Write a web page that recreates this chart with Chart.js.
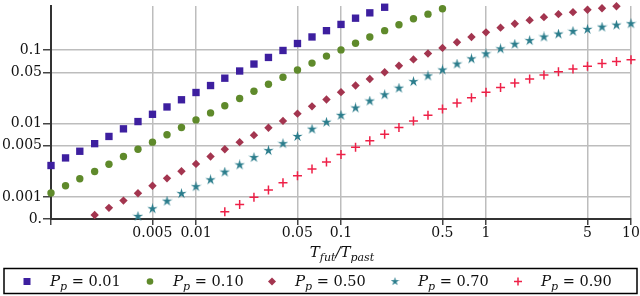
<!DOCTYPE html>
<html>
<head>
<meta charset="utf-8">
<script src="https://cdn.jsdelivr.net/npm/chart.js@4.4.1/dist/chart.umd.min.js"></script>
<style>
  html, body { margin: 0; padding: 0; background: #fff; }
  #wrap { width: 640px; height: 296px; position: relative; }
</style>
</head>
<body>
<div id="wrap"><canvas id="chart"></canvas></div>
<script>
// x positions shared by all series (T_fut / T_past)
const xValues = [0.001, 0.00126, 0.00158, 0.002, 0.00251, 0.00316, 0.00398, 0.00501, 0.00631, 0.00794,
    0.01, 0.0126, 0.0158, 0.02, 0.0251, 0.0316, 0.0398, 0.0501, 0.0631, 0.0794,
    0.1, 0.126, 0.158, 0.2, 0.251, 0.316, 0.398, 0.501, 0.631, 0.794,
    1, 1.26, 1.58, 2, 2.51, 3.16, 3.98, 5.01, 6.31, 7.94, 10];

const seriesNames = ["0.01", "0.10", "0.50", "0.70", "0.90"];

const p001 = [0.00268, 0.00340, 0.00419, 0.00532, 0.00667, 0.00847, 0.01064, 0.01337, 0.01683, 0.02109,
    0.02649, 0.03296, 0.04150, 0.05200, 0.06471, 0.07962, 0.09908, 0.1233, 0.1514, 0.1845,
    0.2244, 0.2729, 0.3228, 0.3846];

const p010 = [0.00113, 0.00142, 0.00177, 0.00222, 0.00279, 0.00355, 0.00446, 0.00558, 0.00703, 0.00883,
    0.01122, 0.01396, 0.01750, 0.02198, 0.02761, 0.03436, 0.04276, 0.05370, 0.06668, 0.08299,
    0.1009, 0.1245, 0.1514, 0.1845, 0.2223, 0.2679, 0.3097, 0.3664];

const p050 = [null, null, null, 0.000566, 0.000710, 0.000891, 0.00112, 0.00142, 0.00179, 0.00224,
    0.00282, 0.00355, 0.00446, 0.00558, 0.00695, 0.00875, 0.01086, 0.01365, 0.01714, 0.02128,
    0.02679, 0.03296, 0.04055, 0.05000, 0.06138, 0.07482, 0.09016, 0.1074, 0.1282, 0.1514,
    0.1750, 0.2028, 0.2296, 0.2564, 0.2818, 0.3097, 0.3296, 0.3548, 0.3733, 0.3972];

const p070 = [null, null, null, null, null, null, 0.000542, 0.000689, 0.000875, 0.00111,
    0.00138, 0.00171, 0.00218, 0.00273, 0.00344, 0.00428, 0.00532, 0.00667, 0.00838, 0.01042,
    0.01294, 0.01629, 0.02028, 0.02466, 0.03034, 0.03733, 0.04457, 0.05370, 0.06471, 0.07621,
    0.08913, 0.1042, 0.1205, 0.1352, 0.1514, 0.1660, 0.1807, 0.1923, 0.2065, 0.2198, 0.2296];

const p090 = [null, null, null, null, null, null, null, null, null, null,
    null, null, 0.000627, 0.000787, 0.000991, 0.00124, 0.00156, 0.00194, 0.00241, 0.00300,
    0.00378, 0.00474, 0.00583, 0.00716, 0.00883, 0.01086, 0.01294, 0.01581, 0.01905, 0.02244,
    0.02679, 0.03097, 0.03581, 0.04055, 0.04592, 0.05093, 0.05534, 0.06026, 0.06607, 0.07031, 0.07396];

const xTicks = [0.001, 0.005, 0.01, 0.05, 0.1, 0.5, 1, 5, 10];
const yTicks = [0.0005, 0.001, 0.005, 0.01, 0.05, 0.1];
const yTickLabels = ["0.", "0.001", "0.005", "0.01", "0.05", "0.1"];

const colors = ["#3d1f9f", "#5f8a2b", "#a3354f", "#2b7d8c", "#ee2047"];
const SERIF = '"DejaVu Serif", serif';

function toPoints(ys) {
    const pts = [];
    ys.forEach((y, i) => {
        if (y !== null) pts.push({ x: xValues[i], y: y });
    });
    return pts;
}

// five pointed star marker
function makeStar(size, color) {
    const c = document.createElement("canvas");
    c.width = size;
    c.height = size;
    const g = c.getContext("2d");
    const cx = size / 2, cy = size / 2;
    const outer = size / 2, inner = size / 5.5;
    g.beginPath();
    for (let i = 0; i < 10; i++) {
        const r = i % 2 === 0 ? outer : inner;
        const a = -Math.PI / 2 + i * Math.PI / 5;
        const px = cx + r * Math.cos(a);
        const py = cy + r * Math.sin(a);
        if (i === 0) g.moveTo(px, py); else g.lineTo(px, py);
    }
    g.closePath();
    g.fillStyle = color;
    g.fill();
    return c;
}

const starBig = makeStar(11, colors[3]);
const starSmall = makeStar(9, colors[3]);

function drawMarker(ctx, kind, x, y) {
    ctx.save();
    ctx.fillStyle = colors[kind];
    ctx.strokeStyle = colors[kind];
    if (kind === 0) {
        ctx.fillRect(x - 3.5, y - 3.5, 7, 7);
    } else if (kind === 1) {
        ctx.beginPath();
        ctx.arc(x, y, 3.3, 0, Math.PI * 2);
        ctx.fill();
    } else if (kind === 2) {
        ctx.beginPath();
        ctx.moveTo(x, y - 4);
        ctx.lineTo(x + 4, y);
        ctx.lineTo(x, y + 4);
        ctx.lineTo(x - 4, y);
        ctx.closePath();
        ctx.fill();
    } else if (kind === 3) {
        ctx.drawImage(starSmall, x - 4.5, y - 4.5);
    } else {
        ctx.lineWidth = 1.5;
        ctx.beginPath();
        ctx.moveTo(x - 4, y);
        ctx.lineTo(x + 4, y);
        ctx.moveTo(x, y - 4);
        ctx.lineTo(x, y + 4);
        ctx.stroke();
    }
    ctx.restore();
}

const extrasPlugin = {
    id: "extras",
    afterDraw(chart) {
        const ctx = chart.ctx;
        const area = chart.chartArea;
        ctx.save();
        ctx.fillStyle = "#111";
        ctx.textBaseline = "alphabetic";

        // axis title T_fut / T_past
        const big = "italic 15px " + SERIF;
        const small = "italic 11px " + SERIF;
        const parts = [["T", big, 0], ["fut", small, 4], ["/", big, 0], ["T", big, 0], ["past", small, 4]];
        let total = 0;
        parts.forEach(p => { ctx.font = p[1]; total += ctx.measureText(p[0]).width; });
        let tx = (area.left + area.right) / 2 - total / 2 + 1;
        const ty = 257;
        parts.forEach(p => {
            ctx.font = p[1];
            ctx.fillText(p[0], tx, ty + p[2]);
            tx += ctx.measureText(p[0]).width;
        });

        // legend box
        ctx.strokeStyle = "#000";
        ctx.lineWidth = 1.5;
        ctx.strokeRect(4, 268.5, 633, 25);

        const legendX = [27, 150, 272, 395, 518];
        seriesNames.forEach((name, i) => {
            const mx = legendX[i];
            drawMarker(ctx, i, mx, 281.5);
            let lx = mx + 23;
            ctx.fillStyle = "#111";
            ctx.font = "italic 15px " + SERIF;
            ctx.fillText("P", lx, 286);
            lx += ctx.measureText("P").width;
            ctx.font = "italic 11px " + SERIF;
            ctx.fillText("p", lx, 290);
            lx += ctx.measureText("p").width;
            ctx.font = "14.5px " + SERIF;
            ctx.fillText(" = " + name, lx, 286);
        });
        ctx.restore();
    },
};

const datasets = [p001, p010, p050, p070, p090].map((ys, i) => {
    const styles = ["rect", "circle", "rectRot", starBig, "cross"];
    const radii = [5.2, 3.7, 4.2, 5.5, 4.5];
    return {
        label: "Pp = " + seriesNames[i],
        data: toPoints(ys),
        pointStyle: styles[i],
        pointRadius: radii[i],
        pointHoverRadius: radii[i],
        backgroundColor: colors[i],
        borderColor: colors[i],
        borderWidth: i === 4 ? 1.5 : 0,
        showLine: false,
        clip: false,
    };
});

function noEdgePadding(scale) {
    scale.paddingTop = 0;
    scale.paddingBottom = 0;
    scale.paddingLeft = 0;
    scale.paddingRight = 0;
}

new Chart(document.getElementById("chart"), {
    type: "scatter",
    data: { datasets: datasets },
    options: {
        responsive: true,
        maintainAspectRatio: false,
        animation: false,
        events: [],
        layout: { padding: { top: 4.5, right: 9, left: 0, bottom: 0 } },
        plugins: {
            legend: { display: false },
            tooltip: { enabled: false },
        },
        scales: {
            x: {
                type: "logarithmic",
                min: 0.001,
                max: 10,
                afterBuildTicks: (scale) => { scale.ticks = xTicks.map(v => ({ value: v })); },
                afterFit: (scale) => { scale.height = 77; noEdgePadding(scale); },
                ticks: {
                    autoSkip: false,
                    maxRotation: 0,
                    padding: 0,
                    color: "#111",
                    font: { family: SERIF, size: 14 },
                    callback: (v) => (v === 0.001 ? "" : String(v)),
                },
                grid: { color: "#bdbdbd", lineWidth: 1.5, tickColor: "#444", tickLength: 6 },
                border: { color: "#333", width: 2 },
            },
            y: {
                type: "logarithmic",
                min: 0.0005,
                max: 0.4,
                afterBuildTicks: (scale) => { scale.ticks = yTicks.map(v => ({ value: v })); },
                afterFit: (scale) => { scale.width = 51; noEdgePadding(scale); },
                ticks: {
                    autoSkip: false,
                    padding: 1,
                    color: "#111",
                    font: { family: SERIF, size: 14 },
                    callback: (v) => yTickLabels[yTicks.indexOf(v)],
                },
                grid: { color: "#bdbdbd", lineWidth: 1.5, tickColor: "#444", tickLength: 8 },
                border: { color: "#333", width: 2 },
            },
        },
    },
    plugins: [extrasPlugin],
});
</script>
</body>
</html>
